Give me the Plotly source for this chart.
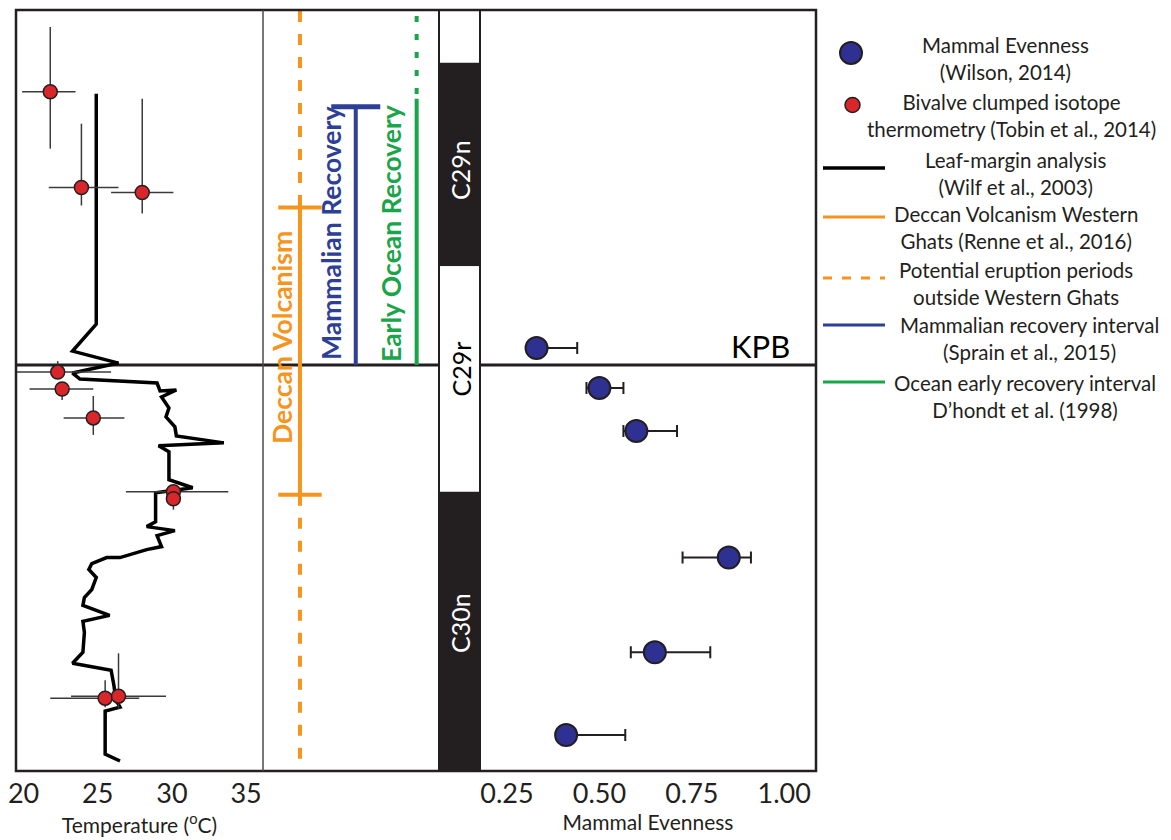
import plotly.graph_objects as go

# Leaf-margin analysis temperature curve (Wilf et al., 2003)
leaf_temp = [24.9, 24.9, 23.3, 26.4, 23.3, 23.8, 29.0, 29.2, 30.3, 29.3, 29.8, 29.6,
             30.2, 30.3, 33.5, 29.1, 29.8, 29.8, 31.4, 28.9, 28.9, 28.3, 30.2, 29.0,
             29.3, 28.3, 26.5, 25.6, 24.6, 24.4, 24.9, 24.6, 24.1, 24.0, 25.8, 24.0,
             24.1, 24.0, 23.3, 25.9, 26.1, 26.2, 26.5, 25.5, 25.5, 26.5]
leaf_pos = [27.2, 4.1, 1.4, 0.2, -0.8, -1.4, -1.8, -2.6, -2.5, -3.2, -4.3, -5.2,
            -6.2, -7.1, -7.8, -8.1, -8.7, -11.5, -12.3, -12.8, -15.7, -16.2, -16.6, -17.1,
            -18.2, -18.5, -19.3, -19.3, -19.9, -20.5, -21.3, -22.5, -23.3, -24.1, -25.1, -25.7,
            -26.8, -28.8, -29.9, -30.6, -32.2, -33.5, -34.3, -34.7, -39.0, -39.7]

# Bivalve clumped isotope thermometry (Tobin et al., 2014)
biv_temp = [21.8, 23.9, 28.0, 22.3, 22.6, 24.7, 30.1, 30.1, 25.5, 26.4]
biv_pos = [27.4, 17.8, 17.3, -0.7, -2.4, -5.3, -12.7, -13.4, -33.4, -33.2]
biv_temp_minus = [1.9, 2.2, 2.1, 3.3, 2.2, 2.0, 3.2, 0, 3.7, 3.2]
biv_temp_plus = [1.7, 2.5, 2.1, 3.6, 2.1, 2.1, 3.7, 0, 2.3, 3.2]
biv_pos_plus = [6.5, 6.4, 9.4, 1.1, 0, 2.2, 0, 0, 1.8, 4.3]
biv_pos_minus = [5.7, 1.8, 2.1, 0, 1.1, 1.7, 0, 1.1, 0.9, 1.3]

# Mammal evenness (Wilson, 2014)
even_val = [0.33, 0.50, 0.60, 0.85, 0.65, 0.41]
even_pos = [1.7, -2.3, -6.6, -19.3, -28.8, -37.1]
even_minus = [0, 0.035, 0.035, 0.125, 0.065, 0]
even_plus = [0.11, 0.065, 0.11, 0.06, 0.15, 0.16]

# magnetochrons (top, bottom)
chron_names = ["", "C29n", "C29r", "C30n"]
chron_top = [35.6, 30.3, 9.9, -12.7]
chron_bottom = [30.3, 9.9, -12.7, -40.7]

# event intervals (top, bottom)
deccan_solid = [15.8, -13.0]
deccan_dash_upper = [35.5, 15.8]
deccan_dash_lower = [-13.0, -39.7]
mammal_recovery = [25.9, 0.0]
ocean_solid = [26.7, 0.0]
ocean_dash = [35.0, 26.7]

KPB = 0.0
temp_ticks = [20, 25, 30, 35]
even_ticks = [0.25, 0.50, 0.75, 1.00]

# the page body keeps an 8px margin, so the figure is drawn 8px in from the corner
OFF = 8
W, H = 1171 - OFF, 840 - OFF
FONT = "Lato"
ORANGE = "#F7941D"
BLUE = "#2E3F98"
GREEN = "#1BA54B"
RED = "#D9262A"
NAVY = "#2E3192"
INK = "#231F20"


def px(x):
    return (x - OFF) / W


def py(y):
    return 1 - (y - OFF) / H


fig = go.Figure()

# temperature panel
fig.add_trace(go.Scatter(x=leaf_temp, y=leaf_pos, mode="lines",
                         line=dict(color="black", width=3.5),
                         xaxis="x", yaxis="y", showlegend=False))
fig.add_trace(go.Scatter(
    x=biv_temp, y=biv_pos, mode="markers",
    marker=dict(size=14, color=RED, line=dict(color=INK, width=1.5)),
    error_x=dict(type="data", symmetric=False, array=biv_temp_plus,
                 arrayminus=biv_temp_minus, color="#3a3a3a", thickness=1.5, width=0),
    error_y=dict(type="data", symmetric=False, array=biv_pos_plus,
                 arrayminus=biv_pos_minus, color="#3a3a3a", thickness=1.5, width=0),
    xaxis="x", yaxis="y", showlegend=False))

# event panel
lane = {"deccan": 0.21, "mammal": 0.527, "ocean": 0.873}


def seg(x, ys, color, dash="solid", width=4):
    fig.add_trace(go.Scatter(x=[x, x], y=ys, mode="lines",
                             line=dict(color=color, width=width, dash=dash),
                             xaxis="x2", yaxis="y", showlegend=False))


seg(lane["deccan"], deccan_dash_upper, ORANGE, "11px,12px")
seg(lane["deccan"], deccan_dash_lower, ORANGE, "11px,12px")
seg(lane["deccan"], deccan_solid, ORANGE)
seg(lane["mammal"], mammal_recovery, BLUE)
seg(lane["ocean"], ocean_dash, GREEN, "6px,12px")
seg(lane["ocean"], ocean_solid, GREEN)

fig.add_trace(go.Scatter(x=[lane["deccan"]] * 2, y=deccan_solid, mode="markers",
                         marker=dict(symbol="line-ew", size=31, line=dict(color=ORANGE, width=4)),
                         xaxis="x2", yaxis="y", showlegend=False))
fig.add_trace(go.Scatter(x=[lane["mammal"]], y=[mammal_recovery[0]], mode="markers",
                         marker=dict(symbol="line-ew", size=35, line=dict(color=BLUE, width=5)),
                         xaxis="x2", yaxis="y", showlegend=False))

# magnetochron column
fig.add_trace(go.Bar(x=[0] * len(chron_names),
                     y=[t - b for t, b in zip(chron_top, chron_bottom)],
                     base=chron_bottom, width=1,
                     marker=dict(color=["white", INK, "white", INK], line=dict(width=0)),
                     xaxis="x3", yaxis="y", showlegend=False))

# mammal evenness
fig.add_trace(go.Scatter(
    x=even_val, y=even_pos, mode="markers",
    marker=dict(size=22, color=NAVY, line=dict(color=INK, width=2)),
    error_x=dict(type="data", symmetric=False, array=even_plus, arrayminus=even_minus,
                 color=INK, thickness=2, width=6),
    xaxis="x4", yaxis="y", showlegend=False))

ax_common = dict(showgrid=False, zeroline=False, ticks="", showline=False, automargin=False,
                 ticklabelstandoff=4, ticklabeloverflow="allow",
                 tickfont=dict(size=27, color=INK, family=FONT))

shapes = [
    dict(type="line", xref="paper", yref="y", x0=px(16), x1=px(816), y0=KPB, y1=KPB,
         line=dict(color=INK, width=3), layer="below"),
    dict(type="rect", xref="paper", yref="paper", x0=px(16), x1=px(816), y0=py(771), y1=py(10),
         line=dict(color=INK, width=2.5)),
    dict(type="line", xref="paper", yref="paper", x0=px(263), x1=px(263), y0=py(771), y1=py(10),
         line=dict(color="#4a4a4a", width=1.5)),
    dict(type="line", xref="paper", yref="paper", x0=px(439), x1=px(439), y0=py(771), y1=py(10),
         line=dict(color=INK, width=2)),
    dict(type="line", xref="paper", yref="paper", x0=px(480), x1=px(480), y0=py(771), y1=py(10),
         line=dict(color=INK, width=2)),
]

annotations = [
    dict(text="<b>Deccan Volcanism</b>", x=px(282), y=py(338), textangle=-90,
         font=dict(size=26.5, color=ORANGE)),
    dict(text="<b>Mammalian Recovery</b>", x=px(331), y=py(234), textangle=-90,
         font=dict(size=26.5, color=BLUE)),
    dict(text="<b>Early Ocean Recovery</b>", x=px(391), y=py(234), textangle=-90,
         font=dict(size=26.5, color=GREEN)),
    dict(text="KPB", x=px(760), y=py(346), font=dict(size=31, color="black")),
    # chron labels, anchored at the foot of the rotated text
    dict(text="C29n", x=px(460), y=py(202), textangle=-90, yanchor="bottom",
         font=dict(size=25, color="white")),
    dict(text="C29r", x=px(460), y=py(399), textangle=-90, yanchor="bottom",
         font=dict(size=25, color="black")),
    dict(text="C30n", x=px(460), y=py(655), textangle=-90, yanchor="bottom",
         font=dict(size=25, color="white")),
]

# legend (drawn by hand so the text can be centred)
legend_items = [
    ("circle_big", NAVY, 53, "Mammal Evenness<br>(Wilson, 2014)", 1005, 59),
    ("circle_small", RED, 105, "Bivalve clumped isotope<br>thermometry (Tobin et al., 2014)", 1011, 116),
    ("line", "black", 168, "Leaf-margin analysis<br>(Wilf et al., 2003)", 1016, 173),
    ("line", ORANGE, 217, "Deccan Volcanism Western<br>Ghats (Renne et al., 2016)", 1016, 227),
    ("dash", ORANGE, 278, "Potential eruption periods<br>outside Western Ghats", 1016, 283),
    ("line", BLUE, 325, "Mammalian recovery interval<br>(Sprain et al., 2015)", 1029, 338),
    ("line", GREEN, 382, "Ocean early recovery interval<br>D\u2019hondt et al. (1998)", 1025, 396),
]
for kind, color, sy, text, tx, ty in legend_items:
    if kind == "circle_big":
        shapes.append(dict(type="circle", xref="paper", yref="paper",
                           x0=px(840), x1=px(862), y0=py(sy + 11), y1=py(sy - 11),
                           fillcolor=color, line=dict(color=INK, width=2)))
    elif kind == "circle_small":
        shapes.append(dict(type="circle", xref="paper", yref="paper",
                           x0=px(845), x1=px(860), y0=py(sy + 7.5), y1=py(sy - 7.5),
                           fillcolor=color, line=dict(color=INK, width=1.5)))
    else:
        shapes.append(dict(type="line", xref="paper", yref="paper",
                           x0=px(823), x1=px(885), y0=py(sy), y1=py(sy),
                           line=dict(color=color, width=3.5 if color == "black" else 3,
                                     dash="9px,10px" if kind == "dash" else "solid")))
    annotations.append(dict(text=text, x=px(tx), y=py(ty), align="center",
                            font=dict(size=20.5, color=INK)))

for a in annotations:
    a.setdefault("xref", "paper")
    a.setdefault("yref", "paper")
    a.setdefault("yanchor", "middle")
    a.update(showarrow=False, xanchor="center")
    a["font"].setdefault("family", FONT)

fig.update_layout(
    width=W, height=H,
    margin=dict(l=0, r=0, t=0, b=0, autoexpand=False),
    paper_bgcolor="white", plot_bgcolor="rgba(0,0,0,0)",
    font=dict(family=FONT, color=INK),
    barmode="overlay", showlegend=False,
    xaxis=dict(domain=[px(16), px(263)], range=[19.49, 36.14], tickvals=temp_ticks,
               title=dict(text="Temperature (<sup>o</sup>C)", font=dict(size=21, family=FONT, color=INK),
                          standoff=0),
               anchor="y", **ax_common),
    xaxis2=dict(domain=[px(263), px(439)], range=[0, 1], visible=False, anchor="y"),
    xaxis3=dict(domain=[px(439), px(480)], range=[-0.5, 0.5], visible=False, anchor="y"),
    xaxis4=dict(domain=[px(480), px(816)], range=[0.177, 1.086], tickvals=even_ticks,
                tickformat=".2f",
                title=dict(text="Mammal Evenness", font=dict(size=21, family=FONT, color=INK),
                           standoff=0),
                anchor="y", **ax_common),
    yaxis=dict(domain=[py(771), py(10)], range=[-40.7, 35.6], visible=False),
    shapes=shapes,
    annotations=annotations,
)

fig.write_html("out.html")
